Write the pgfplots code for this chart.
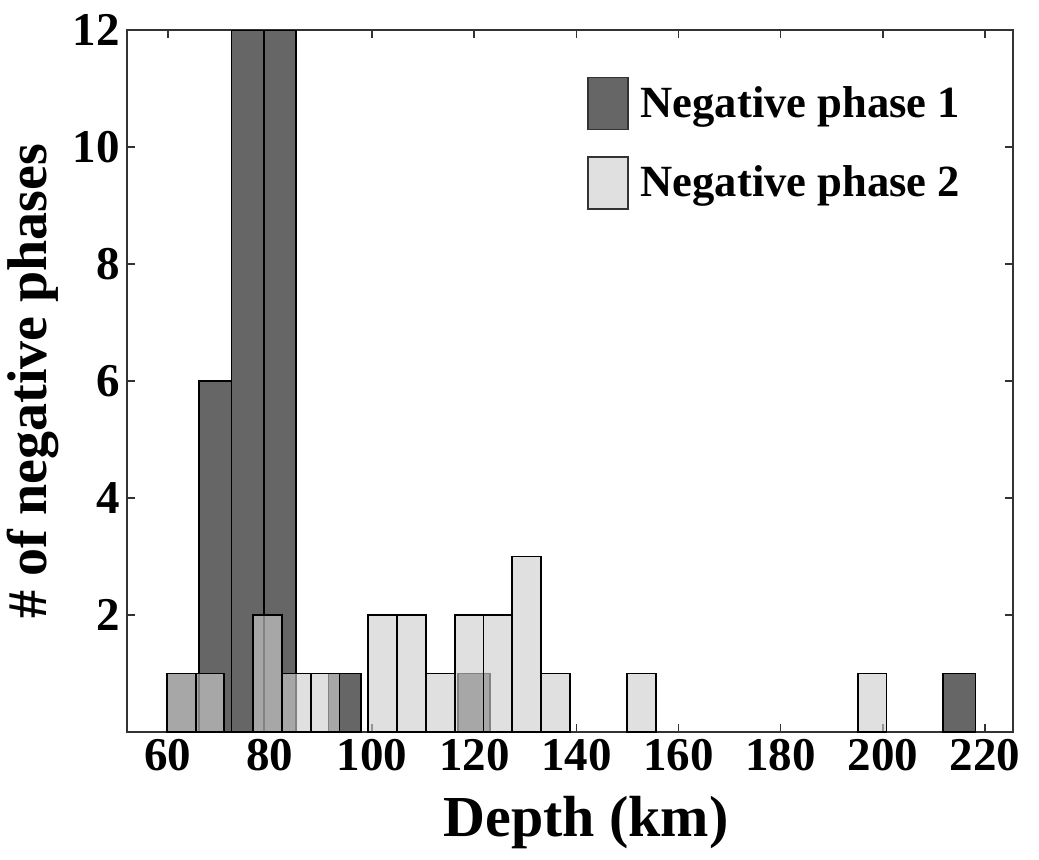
\documentclass[border=0pt]{standalone}
\usepackage{fontspec}
\setmainfont{Liberation Serif}
\usepackage{pgfplots}
\pgfplotsset{compat=1.18}
\definecolor{phaseone}{HTML}{666666}
\definecolor{phasetwo}{HTML}{CECECE}

\begin{document}
\begin{tikzpicture}
% page frame: axis box sits at the origin, margins as in the reference
\useasboundingbox (-63.5pt,-63.5pt) rectangle (456pt,366pt);
\begin{axis}[
    at={(0pt,0pt)}, anchor=south west,
    scale only axis,
    width=443pt, height=351pt,
    xmin=52, xmax=225.5,
    ymin=0, ymax=12,
    xtick={60,80,...,220},
    ytick={2,4,...,12},
    tick align=inside,
    major tick length=4pt,
    tick style={black!80, line width=0.8pt},
    axis line style={black!80, line width=0.8pt},
    /pgf/number format/assume math mode=true,
    ticklabel style={font=\fontsize{23.5}{23.5}\selectfont\bfseries},
    xlabel={Depth (km)},
    ylabel={\# of negative phases},
    label style={font=\fontsize{28}{28}\selectfont\bfseries},
    xlabel style={font=\fontsize{29}{29}\selectfont\bfseries, yshift=-6pt, xshift=8pt},
    legend style={
      at={(0.512,0.94)}, anchor=north west,
      draw=none, fill=none,
      font=\fontsize{22.3}{22.3}\selectfont\bfseries,
      row sep=13pt,
      nodes={inner xsep=6pt},
    },
    legend cell align=left,
    legend image code/.code={
      \draw[#1, draw=black!80, line width=0.8pt] (0pt,-13pt) rectangle (20pt,13pt);
    },
]
  % depth histogram, bins of 6.334 km starting at 59.8 km
  \addplot[ybar, bar shift=0pt, bar width=6.334, fill=phaseone, draw=black, line width=0.9pt]
    coordinates {
      (62.97,1) (69.30,6) (75.64,12) (81.97,12) (94.64,1) (119.97,1) (215.0,1)
    };
  \addlegendentry{Negative phase 1}
  % bins of 5.636 km starting at 59.8 km, drawn semi-transparent on top
  \addplot[ybar, bar shift=0pt, bar width=5.636, fill=phasetwo, fill opacity=0.63, draw=black, line width=0.9pt]
    coordinates {
      (62.62,1) (68.25,1) (79.53,2) (85.16,1) (90.80,1) (102.07,2) (107.71,2)
      (113.34,1) (118.98,2) (124.62,2) (130.25,3) (135.89,1) (152.80,1) (197.89,1)
    };
  \addlegendentry{Negative phase 2}
\end{axis}
\end{tikzpicture}
\end{document}
